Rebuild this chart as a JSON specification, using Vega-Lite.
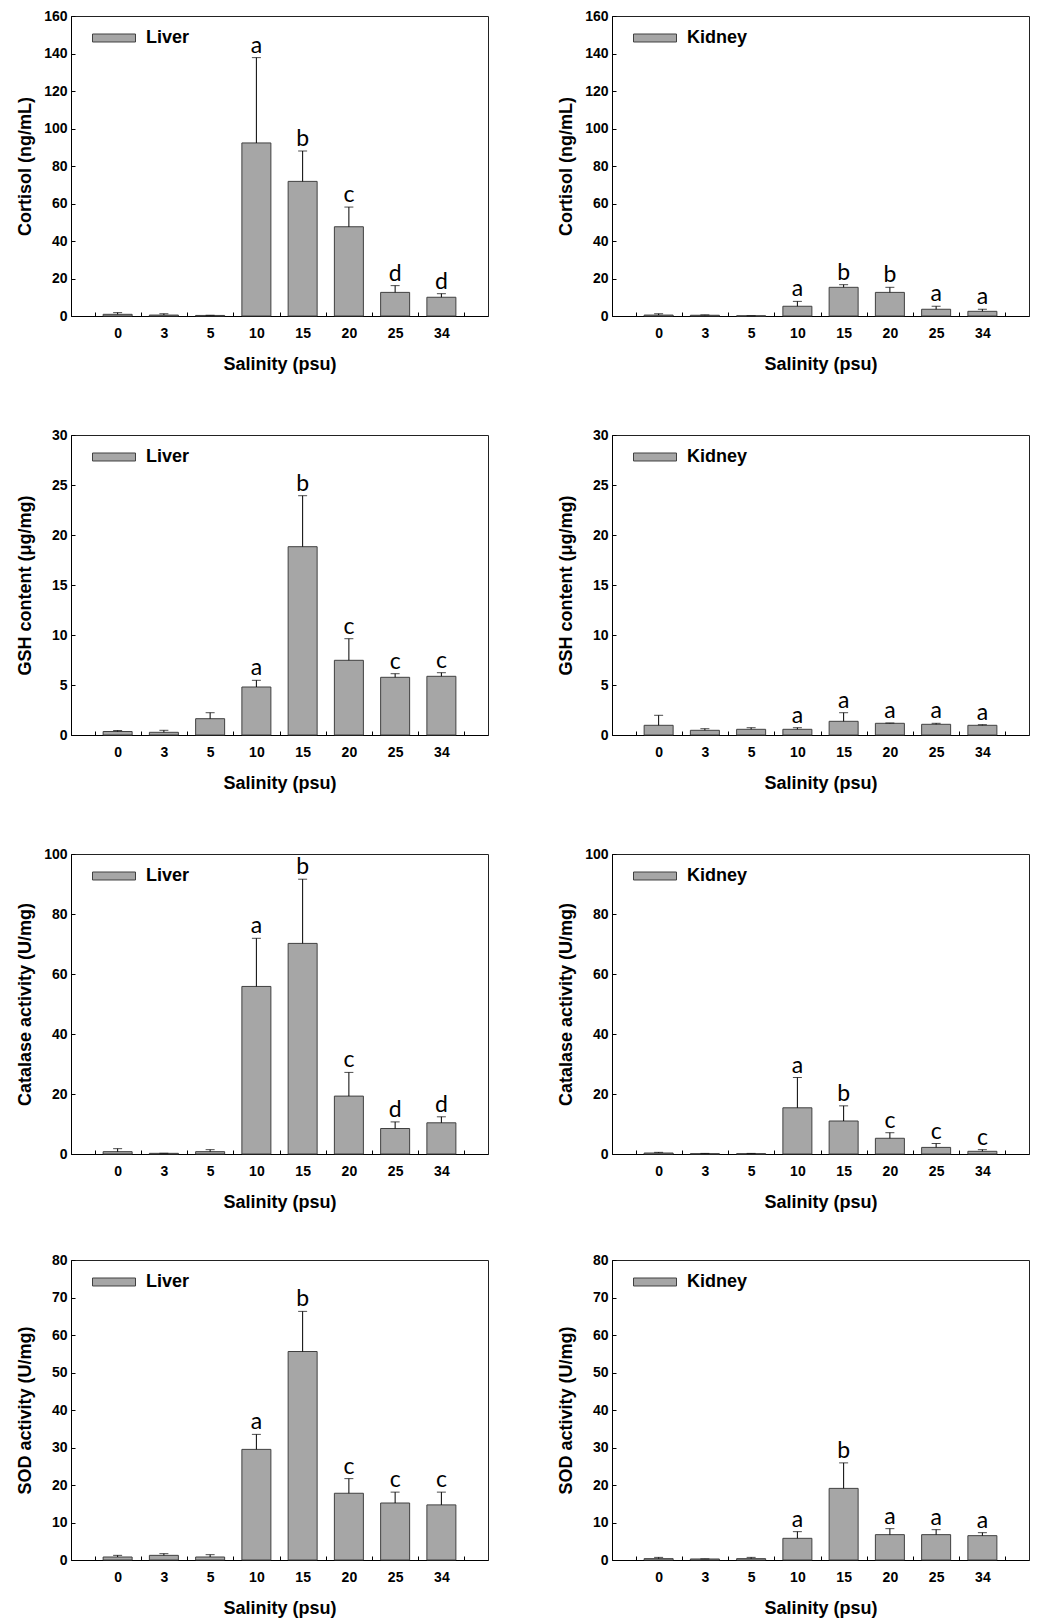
{
"$schema":"https://vega.github.io/schema/vega-lite/v6.json",
"padding":{"left":15,"top":8,"right":0,"bottom":0},
"autosize":{"type":"pad"},
"datasets":{"bars":[
{"m":"C","t":"Liver","i":0,"s":"0","mean":0.9,"top":1.8,"lab":""},
{"m":"C","t":"Liver","i":1,"s":"3","mean":0.5,"top":1.2,"lab":""},
{"m":"C","t":"Liver","i":2,"s":"5","mean":0.3,"top":0.4,"lab":""},
{"m":"C","t":"Liver","i":3,"s":"10","mean":92.3,"top":137.8,"lab":"a"},
{"m":"C","t":"Liver","i":4,"s":"15","mean":71.8,"top":88.0,"lab":"b"},
{"m":"C","t":"Liver","i":5,"s":"20","mean":47.6,"top":58.1,"lab":"c"},
{"m":"C","t":"Liver","i":6,"s":"25","mean":12.6,"top":16.2,"lab":"d"},
{"m":"C","t":"Liver","i":7,"s":"34","mean":10.0,"top":11.9,"lab":"d"},
{"m":"C","t":"Kidney","i":0,"s":"0","mean":0.5,"top":1.2,"lab":""},
{"m":"C","t":"Kidney","i":1,"s":"3","mean":0.4,"top":0.6,"lab":""},
{"m":"C","t":"Kidney","i":2,"s":"5","mean":0.1,"top":0.1,"lab":""},
{"m":"C","t":"Kidney","i":3,"s":"10","mean":5.2,"top":7.8,"lab":"a"},
{"m":"C","t":"Kidney","i":4,"s":"15","mean":15.3,"top":16.7,"lab":"b"},
{"m":"C","t":"Kidney","i":5,"s":"20","mean":12.6,"top":15.3,"lab":"b"},
{"m":"C","t":"Kidney","i":6,"s":"25","mean":3.6,"top":5.2,"lab":"a"},
{"m":"C","t":"Kidney","i":7,"s":"34","mean":2.5,"top":3.6,"lab":"a"},
{"m":"G","t":"Liver","i":0,"s":"0","mean":0.35,"top":0.45,"lab":""},
{"m":"G","t":"Liver","i":1,"s":"3","mean":0.27,"top":0.47,"lab":""},
{"m":"G","t":"Liver","i":2,"s":"5","mean":1.63,"top":2.23,"lab":""},
{"m":"G","t":"Liver","i":3,"s":"10","mean":4.8,"top":5.47,"lab":"a"},
{"m":"G","t":"Liver","i":4,"s":"15","mean":18.83,"top":23.93,"lab":"b"},
{"m":"G","t":"Liver","i":5,"s":"20","mean":7.47,"top":9.63,"lab":"c"},
{"m":"G","t":"Liver","i":6,"s":"25","mean":5.77,"top":6.13,"lab":"c"},
{"m":"G","t":"Liver","i":7,"s":"34","mean":5.87,"top":6.23,"lab":"c"},
{"m":"G","t":"Kidney","i":0,"s":"0","mean":0.97,"top":1.97,"lab":""},
{"m":"G","t":"Kidney","i":1,"s":"3","mean":0.47,"top":0.63,"lab":""},
{"m":"G","t":"Kidney","i":2,"s":"5","mean":0.57,"top":0.73,"lab":""},
{"m":"G","t":"Kidney","i":3,"s":"10","mean":0.57,"top":0.73,"lab":"a"},
{"m":"G","t":"Kidney","i":4,"s":"15","mean":1.37,"top":2.23,"lab":"a"},
{"m":"G","t":"Kidney","i":5,"s":"20","mean":1.17,"top":1.2,"lab":"a"},
{"m":"G","t":"Kidney","i":6,"s":"25","mean":1.07,"top":1.17,"lab":"a"},
{"m":"G","t":"Kidney","i":7,"s":"34","mean":0.97,"top":1.03,"lab":"a"},
{"m":"K","t":"Liver","i":0,"s":"0","mean":0.78,"top":1.78,"lab":""},
{"m":"K","t":"Liver","i":1,"s":"3","mean":0.22,"top":0.25,"lab":""},
{"m":"K","t":"Liver","i":2,"s":"5","mean":0.78,"top":1.45,"lab":""},
{"m":"K","t":"Liver","i":3,"s":"10","mean":55.85,"top":71.9,"lab":"a"},
{"m":"K","t":"Liver","i":4,"s":"15","mean":70.2,"top":91.6,"lab":"b"},
{"m":"K","t":"Liver","i":5,"s":"20","mean":19.3,"top":27.2,"lab":"c"},
{"m":"K","t":"Liver","i":6,"s":"25","mean":8.5,"top":10.7,"lab":"d"},
{"m":"K","t":"Liver","i":7,"s":"34","mean":10.4,"top":12.4,"lab":"d"},
{"m":"K","t":"Kidney","i":0,"s":"0","mean":0.33,"top":0.55,"lab":""},
{"m":"K","t":"Kidney","i":1,"s":"3","mean":0.1,"top":0.2,"lab":""},
{"m":"K","t":"Kidney","i":2,"s":"5","mean":0.1,"top":0.2,"lab":""},
{"m":"K","t":"Kidney","i":3,"s":"10","mean":15.4,"top":25.5,"lab":"a"},
{"m":"K","t":"Kidney","i":4,"s":"15","mean":11.0,"top":16.05,"lab":"b"},
{"m":"K","t":"Kidney","i":5,"s":"20","mean":5.24,"top":7.1,"lab":"c"},
{"m":"K","t":"Kidney","i":6,"s":"25","mean":2.2,"top":3.5,"lab":"c"},
{"m":"K","t":"Kidney","i":7,"s":"34","mean":0.9,"top":1.45,"lab":"c"},
{"m":"S","t":"Liver","i":0,"s":"0","mean":0.8,"top":1.24,"lab":""},
{"m":"S","t":"Liver","i":1,"s":"3","mean":1.24,"top":1.69,"lab":""},
{"m":"S","t":"Liver","i":2,"s":"5","mean":0.8,"top":1.42,"lab":""},
{"m":"S","t":"Liver","i":3,"s":"10","mean":29.5,"top":33.5,"lab":"a"},
{"m":"S","t":"Liver","i":4,"s":"15","mean":55.6,"top":66.3,"lab":"b"},
{"m":"S","t":"Liver","i":5,"s":"20","mean":17.8,"top":21.7,"lab":"c"},
{"m":"S","t":"Liver","i":6,"s":"25","mean":15.2,"top":18.1,"lab":"c"},
{"m":"S","t":"Liver","i":7,"s":"34","mean":14.7,"top":18.1,"lab":"c"},
{"m":"S","t":"Kidney","i":0,"s":"0","mean":0.36,"top":0.7,"lab":""},
{"m":"S","t":"Kidney","i":1,"s":"3","mean":0.27,"top":0.3,"lab":""},
{"m":"S","t":"Kidney","i":2,"s":"5","mean":0.36,"top":0.7,"lab":""},
{"m":"S","t":"Kidney","i":3,"s":"10","mean":5.78,"top":7.56,"lab":"a"},
{"m":"S","t":"Kidney","i":4,"s":"15","mean":19.1,"top":25.9,"lab":"b"},
{"m":"S","t":"Kidney","i":5,"s":"20","mean":6.76,"top":8.36,"lab":"a"},
{"m":"S","t":"Kidney","i":6,"s":"25","mean":6.76,"top":8.09,"lab":"a"},
{"m":"S","t":"Kidney","i":7,"s":"34","mean":6.49,"top":7.29,"lab":"a"}
]},
"vconcat":[
{"vconcat":[
{"hconcat":[
{"width":417,"height":300,"data":{"name":"bars"},"transform":[{"filter":"datum.m==='C' && datum.t==='Liver'"}],
"encoding":{"x":{"field":"i","type":"quantitative","scale":{"domain":[-0.9,7.9],"nice":false,"zero":false},"axis":{"title":"Salinity (psu)","values":[-0.5,0,0.5,1,1.5,2,2.5,3,3.5,4,4.5,5,5.5,6,6.5,7,7.5],"tickCount":40,"labelExpr":"datum.value % 1 === 0 ? ['0','3','5','10','15','20','25','34'][datum.value] : ''","labelOverlap":false,"labelFlush":false,"tickOpacity":{"condition":{"test":"datum.value % 1 === 0","value":0},"value":1}}}},
"layer":[
{"mark":{"type":"bar","width":29,"stroke":"#404040","strokeWidth":1},"encoding":{"y":{"field":"mean","type":"quantitative","scale":{"domain":[0,160],"nice":false},"axis":{"title":"Cortisol (ng/mL)","values":[0,20,40,60,80,100,120,140,160],"tickCount":20,"labelOverlap":false}},"color":{"field":"t","type":"nominal","scale":{"domain":["Liver"],"range":["#a6a6a6"]},"legend":{"symbolType":"M-1,-0.186L1,-0.186L1,0.186L-1,0.186Z"}}}},
{"mark":{"type":"rule","color":"#000","strokeWidth":1},"encoding":{"y":{"field":"mean","type":"quantitative"},"y2":{"field":"top"}}},
{"mark":{"type":"tick","orient":"horizontal","color":"#000","size":9,"thickness":1},"encoding":{"y":{"field":"top","type":"quantitative"}}},
{"mark":{"type":"text","dy":-5,"baseline":"alphabetic","color":"#000"},"encoding":{"y":{"field":"top","type":"quantitative"},"text":{"field":"lab"}}}
]},
{"width":417,"height":300,"data":{"name":"bars"},"transform":[{"filter":"datum.m==='C' && datum.t==='Kidney'"}],
"encoding":{"x":{"field":"i","type":"quantitative","scale":{"domain":[-0.9,7.9],"nice":false,"zero":false},"axis":{"title":"Salinity (psu)","values":[-0.5,0,0.5,1,1.5,2,2.5,3,3.5,4,4.5,5,5.5,6,6.5,7,7.5],"tickCount":40,"labelExpr":"datum.value % 1 === 0 ? ['0','3','5','10','15','20','25','34'][datum.value] : ''","labelOverlap":false,"labelFlush":false,"tickOpacity":{"condition":{"test":"datum.value % 1 === 0","value":0},"value":1}}}},
"layer":[
{"mark":{"type":"bar","width":29,"stroke":"#404040","strokeWidth":1},"encoding":{"y":{"field":"mean","type":"quantitative","scale":{"domain":[0,160],"nice":false},"axis":{"title":"Cortisol (ng/mL)","values":[0,20,40,60,80,100,120,140,160],"tickCount":20,"labelOverlap":false}},"color":{"field":"t","type":"nominal","scale":{"domain":["Kidney"],"range":["#a6a6a6"]},"legend":{"symbolType":"M-1,-0.186L1,-0.186L1,0.186L-1,0.186Z"}}}},
{"mark":{"type":"rule","color":"#000","strokeWidth":1},"encoding":{"y":{"field":"mean","type":"quantitative"},"y2":{"field":"top"}}},
{"mark":{"type":"tick","orient":"horizontal","color":"#000","size":9,"thickness":1},"encoding":{"y":{"field":"top","type":"quantitative"}}},
{"mark":{"type":"text","dy":-5,"baseline":"alphabetic","color":"#000"},"encoding":{"y":{"field":"top","type":"quantitative"},"text":{"field":"lab"}}}
]}
],"spacing":67,"resolve":{"scale":{"color":"independent"}}},
{"hconcat":[
{"width":417,"height":300,"data":{"name":"bars"},"transform":[{"filter":"datum.m==='G' && datum.t==='Liver'"}],
"encoding":{"x":{"field":"i","type":"quantitative","scale":{"domain":[-0.9,7.9],"nice":false,"zero":false},"axis":{"title":"Salinity (psu)","values":[-0.5,0,0.5,1,1.5,2,2.5,3,3.5,4,4.5,5,5.5,6,6.5,7,7.5],"tickCount":40,"labelExpr":"datum.value % 1 === 0 ? ['0','3','5','10','15','20','25','34'][datum.value] : ''","labelOverlap":false,"labelFlush":false,"tickOpacity":{"condition":{"test":"datum.value % 1 === 0","value":0},"value":1}}}},
"layer":[
{"mark":{"type":"bar","width":29,"stroke":"#404040","strokeWidth":1},"encoding":{"y":{"field":"mean","type":"quantitative","scale":{"domain":[0,30],"nice":false},"axis":{"title":"GSH content (μg/mg)","values":[0,5,10,15,20,25,30],"tickCount":20,"labelOverlap":false}},"color":{"field":"t","type":"nominal","scale":{"domain":["Liver"],"range":["#a6a6a6"]},"legend":{"symbolType":"M-1,-0.186L1,-0.186L1,0.186L-1,0.186Z"}}}},
{"mark":{"type":"rule","color":"#000","strokeWidth":1},"encoding":{"y":{"field":"mean","type":"quantitative"},"y2":{"field":"top"}}},
{"mark":{"type":"tick","orient":"horizontal","color":"#000","size":9,"thickness":1},"encoding":{"y":{"field":"top","type":"quantitative"}}},
{"mark":{"type":"text","dy":-5,"baseline":"alphabetic","color":"#000"},"encoding":{"y":{"field":"top","type":"quantitative"},"text":{"field":"lab"}}}
]},
{"width":417,"height":300,"data":{"name":"bars"},"transform":[{"filter":"datum.m==='G' && datum.t==='Kidney'"}],
"encoding":{"x":{"field":"i","type":"quantitative","scale":{"domain":[-0.9,7.9],"nice":false,"zero":false},"axis":{"title":"Salinity (psu)","values":[-0.5,0,0.5,1,1.5,2,2.5,3,3.5,4,4.5,5,5.5,6,6.5,7,7.5],"tickCount":40,"labelExpr":"datum.value % 1 === 0 ? ['0','3','5','10','15','20','25','34'][datum.value] : ''","labelOverlap":false,"labelFlush":false,"tickOpacity":{"condition":{"test":"datum.value % 1 === 0","value":0},"value":1}}}},
"layer":[
{"mark":{"type":"bar","width":29,"stroke":"#404040","strokeWidth":1},"encoding":{"y":{"field":"mean","type":"quantitative","scale":{"domain":[0,30],"nice":false},"axis":{"title":"GSH content (μg/mg)","values":[0,5,10,15,20,25,30],"tickCount":20,"labelOverlap":false}},"color":{"field":"t","type":"nominal","scale":{"domain":["Kidney"],"range":["#a6a6a6"]},"legend":{"symbolType":"M-1,-0.186L1,-0.186L1,0.186L-1,0.186Z"}}}},
{"mark":{"type":"rule","color":"#000","strokeWidth":1},"encoding":{"y":{"field":"mean","type":"quantitative"},"y2":{"field":"top"}}},
{"mark":{"type":"tick","orient":"horizontal","color":"#000","size":9,"thickness":1},"encoding":{"y":{"field":"top","type":"quantitative"}}},
{"mark":{"type":"text","dy":-5,"baseline":"alphabetic","color":"#000"},"encoding":{"y":{"field":"top","type":"quantitative"},"text":{"field":"lab"}}}
]}
],"spacing":67,"resolve":{"scale":{"color":"independent"}}},
{"hconcat":[
{"width":417,"height":300,"data":{"name":"bars"},"transform":[{"filter":"datum.m==='K' && datum.t==='Liver'"}],
"encoding":{"x":{"field":"i","type":"quantitative","scale":{"domain":[-0.9,7.9],"nice":false,"zero":false},"axis":{"title":"Salinity (psu)","values":[-0.5,0,0.5,1,1.5,2,2.5,3,3.5,4,4.5,5,5.5,6,6.5,7,7.5],"tickCount":40,"labelExpr":"datum.value % 1 === 0 ? ['0','3','5','10','15','20','25','34'][datum.value] : ''","labelOverlap":false,"labelFlush":false,"tickOpacity":{"condition":{"test":"datum.value % 1 === 0","value":0},"value":1}}}},
"layer":[
{"mark":{"type":"bar","width":29,"stroke":"#404040","strokeWidth":1},"encoding":{"y":{"field":"mean","type":"quantitative","scale":{"domain":[0,100],"nice":false},"axis":{"title":"Catalase activity (U/mg)","values":[0,20,40,60,80,100],"tickCount":20,"labelOverlap":false}},"color":{"field":"t","type":"nominal","scale":{"domain":["Liver"],"range":["#a6a6a6"]},"legend":{"symbolType":"M-1,-0.186L1,-0.186L1,0.186L-1,0.186Z"}}}},
{"mark":{"type":"rule","color":"#000","strokeWidth":1},"encoding":{"y":{"field":"mean","type":"quantitative"},"y2":{"field":"top"}}},
{"mark":{"type":"tick","orient":"horizontal","color":"#000","size":9,"thickness":1},"encoding":{"y":{"field":"top","type":"quantitative"}}},
{"mark":{"type":"text","dy":-5,"baseline":"alphabetic","color":"#000"},"encoding":{"y":{"field":"top","type":"quantitative"},"text":{"field":"lab"}}}
]},
{"width":417,"height":300,"data":{"name":"bars"},"transform":[{"filter":"datum.m==='K' && datum.t==='Kidney'"}],
"encoding":{"x":{"field":"i","type":"quantitative","scale":{"domain":[-0.9,7.9],"nice":false,"zero":false},"axis":{"title":"Salinity (psu)","values":[-0.5,0,0.5,1,1.5,2,2.5,3,3.5,4,4.5,5,5.5,6,6.5,7,7.5],"tickCount":40,"labelExpr":"datum.value % 1 === 0 ? ['0','3','5','10','15','20','25','34'][datum.value] : ''","labelOverlap":false,"labelFlush":false,"tickOpacity":{"condition":{"test":"datum.value % 1 === 0","value":0},"value":1}}}},
"layer":[
{"mark":{"type":"bar","width":29,"stroke":"#404040","strokeWidth":1},"encoding":{"y":{"field":"mean","type":"quantitative","scale":{"domain":[0,100],"nice":false},"axis":{"title":"Catalase activity (U/mg)","values":[0,20,40,60,80,100],"tickCount":20,"labelOverlap":false}},"color":{"field":"t","type":"nominal","scale":{"domain":["Kidney"],"range":["#a6a6a6"]},"legend":{"symbolType":"M-1,-0.186L1,-0.186L1,0.186L-1,0.186Z"}}}},
{"mark":{"type":"rule","color":"#000","strokeWidth":1},"encoding":{"y":{"field":"mean","type":"quantitative"},"y2":{"field":"top"}}},
{"mark":{"type":"tick","orient":"horizontal","color":"#000","size":9,"thickness":1},"encoding":{"y":{"field":"top","type":"quantitative"}}},
{"mark":{"type":"text","dy":-5,"baseline":"alphabetic","color":"#000"},"encoding":{"y":{"field":"top","type":"quantitative"},"text":{"field":"lab"}}}
]}
],"spacing":67,"resolve":{"scale":{"color":"independent"}}}
],"spacing":53,"resolve":{"scale":{"color":"independent"}}},
{"hconcat":[
{"width":417,"height":300,"data":{"name":"bars"},"transform":[{"filter":"datum.m==='S' && datum.t==='Liver'"}],
"encoding":{"x":{"field":"i","type":"quantitative","scale":{"domain":[-0.9,7.9],"nice":false,"zero":false},"axis":{"title":"Salinity (psu)","values":[-0.5,0,0.5,1,1.5,2,2.5,3,3.5,4,4.5,5,5.5,6,6.5,7,7.5],"tickCount":40,"labelExpr":"datum.value % 1 === 0 ? ['0','3','5','10','15','20','25','34'][datum.value] : ''","labelOverlap":false,"labelFlush":false,"tickOpacity":{"condition":{"test":"datum.value % 1 === 0","value":0},"value":1}}}},
"layer":[
{"mark":{"type":"bar","width":29,"stroke":"#404040","strokeWidth":1},"encoding":{"y":{"field":"mean","type":"quantitative","scale":{"domain":[0,80],"nice":false},"axis":{"title":"SOD activity (U/mg)","values":[0,10,20,30,40,50,60,70,80],"tickCount":20,"labelOverlap":false}},"color":{"field":"t","type":"nominal","scale":{"domain":["Liver"],"range":["#a6a6a6"]},"legend":{"symbolType":"M-1,-0.186L1,-0.186L1,0.186L-1,0.186Z"}}}},
{"mark":{"type":"rule","color":"#000","strokeWidth":1},"encoding":{"y":{"field":"mean","type":"quantitative"},"y2":{"field":"top"}}},
{"mark":{"type":"tick","orient":"horizontal","color":"#000","size":9,"thickness":1},"encoding":{"y":{"field":"top","type":"quantitative"}}},
{"mark":{"type":"text","dy":-5,"baseline":"alphabetic","color":"#000"},"encoding":{"y":{"field":"top","type":"quantitative"},"text":{"field":"lab"}}}
]},
{"width":417,"height":300,"data":{"name":"bars"},"transform":[{"filter":"datum.m==='S' && datum.t==='Kidney'"}],
"encoding":{"x":{"field":"i","type":"quantitative","scale":{"domain":[-0.9,7.9],"nice":false,"zero":false},"axis":{"title":"Salinity (psu)","values":[-0.5,0,0.5,1,1.5,2,2.5,3,3.5,4,4.5,5,5.5,6,6.5,7,7.5],"tickCount":40,"labelExpr":"datum.value % 1 === 0 ? ['0','3','5','10','15','20','25','34'][datum.value] : ''","labelOverlap":false,"labelFlush":false,"tickOpacity":{"condition":{"test":"datum.value % 1 === 0","value":0},"value":1}}}},
"layer":[
{"mark":{"type":"bar","width":29,"stroke":"#404040","strokeWidth":1},"encoding":{"y":{"field":"mean","type":"quantitative","scale":{"domain":[0,80],"nice":false},"axis":{"title":"SOD activity (U/mg)","values":[0,10,20,30,40,50,60,70,80],"tickCount":20,"labelOverlap":false}},"color":{"field":"t","type":"nominal","scale":{"domain":["Kidney"],"range":["#a6a6a6"]},"legend":{"symbolType":"M-1,-0.186L1,-0.186L1,0.186L-1,0.186Z"}}}},
{"mark":{"type":"rule","color":"#000","strokeWidth":1},"encoding":{"y":{"field":"mean","type":"quantitative"},"y2":{"field":"top"}}},
{"mark":{"type":"tick","orient":"horizontal","color":"#000","size":9,"thickness":1},"encoding":{"y":{"field":"top","type":"quantitative"}}},
{"mark":{"type":"text","dy":-5,"baseline":"alphabetic","color":"#000"},"encoding":{"y":{"field":"top","type":"quantitative"},"text":{"field":"lab"}}}
]}
],"spacing":67,"resolve":{"scale":{"color":"independent"}}}
],
"spacing":40,
"resolve":{"scale":{"color":"independent"}},
"config":{
"view":{"stroke":"#222","strokeWidth":1},
"axis":{"domainColor":"#000","domainWidth":1,"tickColor":"#000","tickWidth":1,"tickSize":-4,"labelColor":"#000","titleColor":"#000","labelFont":"Liberation Sans","labelFontWeight":"bold","titleFont":"Liberation Sans","titleFontWeight":"bold","titleFontSize":18,"grid":false,"labelOverlap":false},
"axisX":{"labelFontSize":14,"labelPadding":14,"titlePadding":15},
"axisY":{"labelFontSize":14,"labelPadding":8,"titlePadding":7,"minExtent":30,"maxExtent":30},
"legend":{"orient":"none","legendX":21,"legendY":0,"title":null,"padding":0,"symbolSize":1849,"symbolStrokeColor":"#404040","symbolStrokeWidth":1,"symbolOpacity":1,"labelFont":"Liberation Sans","labelFontSize":18,"labelFontWeight":"bold","labelColor":"#000","labelOffset":10},
"text":{"font":"Lato","fontSize":23}
}
}
